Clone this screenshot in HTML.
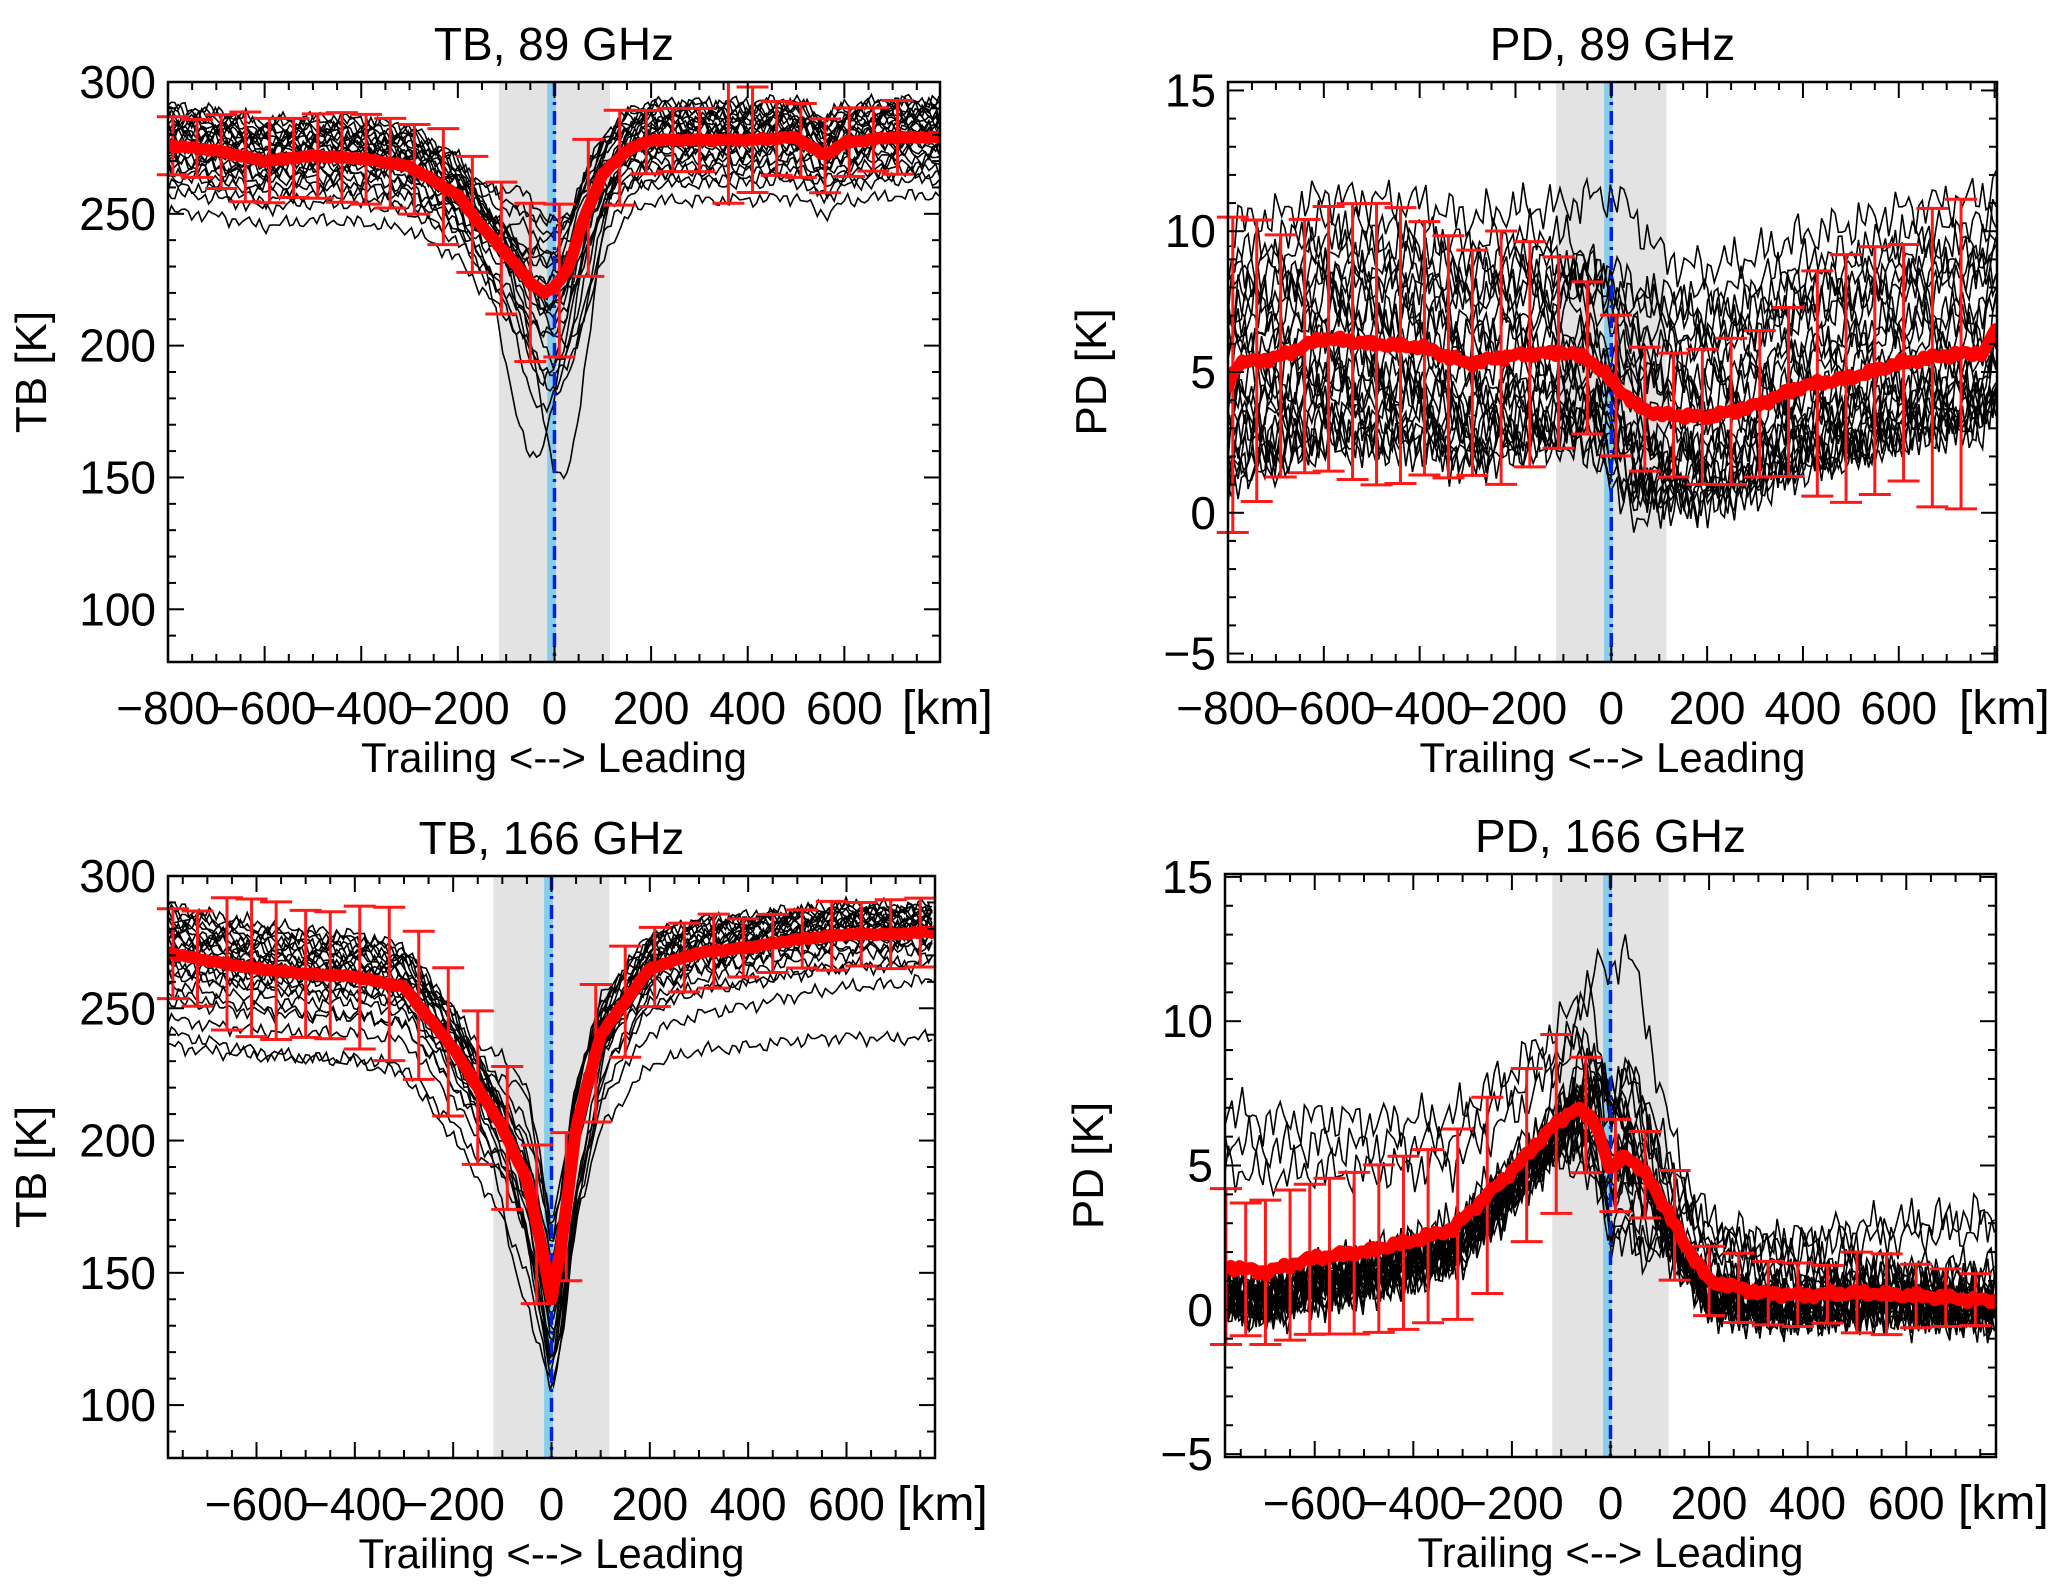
<!DOCTYPE html>
<html><head><meta charset="utf-8"><title>TB and PD composites</title>
<style>
html,body{margin:0;padding:0;background:#fff;}
svg{display:block;font-family:"Liberation Sans",sans-serif;}
</style></head>
<body>
<svg id="fig" width="2067" height="1591" viewBox="0 0 2067 1591" xmlns="http://www.w3.org/2000/svg"></svg>
<script>
// ---- data ----
const tl_meanX = [-800,-700,-600,-500,-400,-300,-200,-150,-100,-50,-20,0,30,60,100,150,200,300,400,500,560,600,700,800];
const tl_meanY = [276,274,270,272,271,268,257,245,235,224,220,222,230,248,265,274,278,278,278,279,272,277,279,279];
const tl_errX = [-790,-740,-690,-640,-590,-540,-490,-440,-390,-340,-290,-230,-170,-110,-50,10,70,135,190,245,300,360,410,460,510,560,610,660,710];
const tl_errH = [11,11,14,17,16,15,16,17,17,17,17,22,22,25,30,29,26,18,12,12,12,24,20,14,14,14,13,12,14];
const tr_meanX = [-800,-780,-700,-600,-500,-400,-300,-200,-100,-50,0,50,100,200,300,400,500,600,700,780,800];
const tr_meanY = [4.5,5.3,5.5,6.2,6.0,5.9,5.3,5.6,5.7,5.5,4.7,3.8,3.5,3.4,3.8,4.5,4.8,5.3,5.6,5.7,6.5];
const tr_errX = [-790,-740,-690,-640,-590,-540,-490,-440,-390,-340,-290,-230,-170,-110,-50,10,70,130,190,250,310,370,430,490,550,610,670,730];
const tr_errH = [5.6,5.0,4.3,4.5,4.7,4.9,5.0,4.9,4.5,4.3,4.0,4.5,4.0,3.4,2.7,2.5,2.2,2.2,2.4,2.6,2.6,3.0,4.0,4.4,4.4,4.2,5.3,5.5];
const bl_meanX = [-780,-700,-600,-500,-400,-300,-200,-100,-50,-20,0,20,50,100,200,300,400,500,600,700,780];
const bl_meanY = [271,268,265,263,262,258,235,205,185,160,140,160,205,240,265,271,273,276,278,278,279];
const bl_errX = [-770,-720,-660,-610,-560,-500,-450,-390,-330,-270,-210,-150,-90,-30,30,90,150,210,270,330,390,450,510,570,630,690,750];
const bl_errH = [17,18,25,26,26,24,24,27,29,28,28,29,27,30,28,26,21,15,13,14,11,11,11,13,12,13,13];
const br_meanX = [-780,-700,-600,-500,-400,-320,-200,-120,-70,-30,0,30,80,150,200,300,400,500,600,700,780];
const br_meanY = [1.5,1.3,1.8,2.0,2.4,2.8,4.8,6.3,7.0,6.5,4.8,5.4,4.5,2.3,1.0,0.6,0.5,0.6,0.5,0.4,0.3];
const br_errX = [-780,-740,-700,-650,-610,-570,-520,-470,-420,-370,-310,-250,-170,-110,-50,10,70,130,200,260,320,380,440,500,560,620,680,740];
const br_errH = [2.7,2.3,2.5,2.6,2.6,2.7,2.8,2.9,3.0,3.0,3.3,3.4,3.0,3.1,2.0,1.6,1.5,1.9,1.2,1.2,1.1,1.1,1.0,1.4,1.4,1.1,1.0,0.9];
// per-trace offsets: left side, right side, extra dip near center
const tl_trL = [15,12,10,8,6,4,2,0,-2,-4,-6,-8,-12,-18,-25,14,11,7,3,-1,-5,-10,9,5,-15];
const tl_trR = [14,12,10,9,7,5,3,1,-1,-3,-5,-8,-12,-16,-22,13,10,6,2,-2,-6,-10,8,4,-14];
const tl_trC = [10,15,-20,5,-40,0,-10,20,-30,8,-60,12,-5,-25,-15,18,-45,3,-80,-8,25,-35,6,-12,0];
const tr_trL = [-3.8,-3.4,-3,-2.5,-2,-1.5,-1,-0.5,0,0.5,1,1.5,2,2.5,3,3.5,-4,-3.6,-2.8,-1.2,0.8,2.2,4,5,-2];
const tr_trR = [-2.6,-2.4,-2.2,-2,-1.8,-1.5,-1,-0.5,0,0.5,1,1.5,2.5,3,3.5,4,-2.5,-2.3,-1.8,-0.8,1.5,3,4.5,5.5,-1];
const tr_trC = [0,1,-1,2,-2,1.5,0,-1,0.5,1,-0.5,2,-1.5,0,1,-1,0.5,2,0,-2,1,0,-1,1.5,0];
const bl_trL = [18,15,12,10,8,6,4,2,0,-2,-5,-8,-12,-18,-25,-35,16,13,9,5,1,-3,-7,-15,-30];
const bl_trR = [10,9,8,7,6,5,4,3,2,1,0,-2,-4,-6,-10,-18,9,7,5,3,1,-1,-5,-12,-40];
const bl_trC = [20,10,-20,5,-35,0,-10,25,-30,8,-45,12,-5,-25,-15,18,-40,3,-10,-8,30,-20,6,-12,0];
const br_trL = [-1.5,-1.3,-1.2,-1.0,-1.0,-0.8,-0.8,-1.2,-0.9,-1.1,-1.4,-1.0,-0.6,-1.3,-0.9,-1.2,3.5,4.5,5.5,-1.0,-0.7,-1.1,-1.3,-0.8,-1.5];
const br_trR = [-0.5,-0.3,-0.6,-0.2,-0.4,0.3,-0.5,-0.1,-0.3,0.5,-0.4,0.2,0.8,1.2,2.5,3,-0.6,-0.2,0.1,-0.4,-0.3,0.4,-0.5,0,-0.2];
const br_trC = [2,3,1,-2,0,4,-1,2.5,3.5,-2.5,1.5,0.5,-1,3,2,-3,1,0,4.5,-1.5,2,-0.5,3,1,-2];
const xTicks = [-800,-600,-400,-200,0,200,400,600];
const xTicksB = [-600,-400,-200,0,200,400,600];

// ---- layout ----
const panels = [
 {id:'tb89', title:'TB, 89 GHz', ylab:'TB [K]', x0:168,x1:940,y0:82,y1:662, xmin:-800,xmax:798, ymin:80,ymax:300, yMaj:[100,150,200,250,300], yMin:10, noise:3,
  mX:tl_meanX,mY:tl_meanY,eX:tl_errX,eH:tl_errH,tL:tl_trL,tR:tl_trR,tC:tl_trC, xt:xTicks, band:115},
 {id:'pd89', title:'PD, 89 GHz', ylab:'PD [K]', x0:1228,x1:1997,y0:82,y1:662, xmin:-800,xmax:805, ymin:-5.3,ymax:15.3, yMaj:[-5,0,5,10,15], yMin:1, noise:0.9,
  mX:tr_meanX,mY:tr_meanY,eX:tr_errX,eH:tr_errH,tL:tr_trL,tR:tr_trR,tC:tr_trC, xt:xTicks, band:115},
 {id:'tb166', title:'TB, 166 GHz', ylab:'TB [K]', x0:168,x1:935,y0:876,y1:1458, xmin:-780,xmax:780, ymin:80,ymax:300, yMaj:[100,150,200,250,300], yMin:10, noise:3,
  mX:bl_meanX,mY:bl_meanY,eX:bl_errX,eH:bl_errH,tL:bl_trL,tR:bl_trR,tC:bl_trC, xt:xTicksB, band:118},
 {id:'pd166', title:'PD, 166 GHz', ylab:'PD [K]', x0:1225,x1:1996,y0:874,y1:1457, xmin:-782,xmax:782, ymin:-5.1,ymax:15.1, yMaj:[-5,0,5,10,15], yMin:1, noise:0.9,
  mX:br_meanX,mY:br_meanY,eX:br_errX,eH:br_errH,tL:br_trL,tR:br_trR,tC:br_trC, xt:xTicksB, band:118}
];
const NS='http://www.w3.org/2000/svg';
const svg=document.getElementById('fig');
function mk(tag,attrs,parent){const e=document.createElementNS(NS,tag);for(const k in attrs)e.setAttribute(k,attrs[k]);(parent||svg).appendChild(e);return e;}
function interp(xs,ys,x){if(x<=xs[0])return ys[0];for(let i=1;i<xs.length;i++){if(x<=xs[i]){const t=(x-xs[i-1])/(xs[i]-xs[i-1]);return ys[i-1]+t*(ys[i]-ys[i-1]);}}return ys[ys.length-1];}
function wig(i,k){return Math.sin(i*1.7+k*3.1)*0.5+Math.sin(i*0.61+k*1.3)*0.35+Math.sin(i*3.9+k*0.7)*0.3;}

panels.forEach((p,pi)=>{
  const g=mk('g',{});
  
  
  const sx=v=>p.x0+(v-p.xmin)/(p.xmax-p.xmin)*(p.x1-p.x0);
  const sy=v=>p.y1-(v-p.ymin)/(p.ymax-p.ymin)*(p.y1-p.y0);
  const cp=mk('clipPath',{id:'clip'+pi},g); mk('rect',{x:p.x0,y:p.y0,width:p.x1-p.x0,height:p.y1-p.y0},cp);
  const band=mk('rect',{x:sx(-p.band),y:p.y0,width:sx(p.band)-sx(-p.band),height:p.y1-p.y0,fill:'#e3e3e3'},g);
  
  
  const cb=mk('rect',{x:sx(-15),y:p.y0,width:sx(3)-sx(-15),height:p.y1-p.y0,fill:'#87ceeb'},g);
  
  
  const tg=mk('g',{'clip-path':'url(#clip'+pi+')'},g);
  
  
  for(let k=0;k<p.tL.length;k++){
    let d='';let i=0;
    for(let x=p.xmin;x<=p.xmax;x+=7,i++){
      const t=(x-p.xmin)/(p.xmax-p.xmin);
      const off=p.tL[k]*(1-t)+p.tR[k]*t;
      const c=p.tC[k]*Math.exp(-Math.pow((x-(k%5-2)*25)/70,2));
      const v=interp(p.mX,p.mY,x)+off+c+p.noise*wig(i,k);
      d+=(d?'L':'M')+sx(x).toFixed(1)+' '+sy(v).toFixed(1);
    }
    const path=mk('path',{d:d,fill:'none',stroke:'#000','stroke-width':1.6},tg);
    
    
  }
  const cl=mk('line',{x1:sx(0),x2:sx(0),y1:p.y0,y2:p.y1,stroke:'#0022dd','stroke-width':3.5,'stroke-dasharray':'14 6 3 6'},g);
  
  
  p.eX.forEach((x,j)=>{
    const m=interp(p.mX,p.mY,x),h=p.eH[j];
    const eg=mk('g',{stroke:'#ff1a1a','stroke-width':3},g);
    
    
    const ya=Math.max(sy(m+h),p.y0),yb=Math.min(sy(m-h),p.y1);
    mk('line',{x1:sx(x),x2:sx(x),y1:ya,y2:yb},eg);
    if(sy(m+h)>=p.y0) mk('line',{x1:sx(x)-16,x2:sx(x)+16,y1:ya,y2:ya},eg);
    if(sy(m-h)<=p.y1) mk('line',{x1:sx(x)-16,x2:sx(x)+16,y1:yb,y2:yb},eg);
  });
  let d='';
  for(let x=p.xmin;x<=p.xmax;x+=6){const i=(x-p.xmin)/6;const v=interp(p.mX,p.mY,x)+p.noise*0.15*wig(i,99);d+=(d?'L':'M')+sx(x).toFixed(1)+' '+sy(v).toFixed(1);}
  const ml=mk('path',{d:d,fill:'none',stroke:'#ff0000','stroke-width':12,'stroke-linejoin':'round','stroke-linecap':'round','clip-path':'url(#clip'+pi+')'},g);
  
  
  const fr=mk('rect',{x:p.x0,y:p.y0,width:p.x1-p.x0,height:p.y1-p.y0,fill:'none',stroke:'#000','stroke-width':2.5},g);
  
  
  const tk=mk('g',{stroke:'#000','stroke-width':2},g);
  for(let x=Math.ceil(p.xmin/50)*50;x<=p.xmax;x+=50){const L=(x%200===0)?16:8;
    mk('line',{x1:sx(x),x2:sx(x),y1:p.y1,y2:p.y1-L},tk);mk('line',{x1:sx(x),x2:sx(x),y1:p.y0,y2:p.y0+L},tk);}
  for(let y=Math.ceil(p.ymin/p.yMin)*p.yMin;y<=p.ymax;y+=p.yMin){const yy=Math.round(y*1000)/1000;const L=(Math.abs(yy/(p.yMin*5)-Math.round(yy/(p.yMin*5)))<1e-6)?16:8;
    mk('line',{x1:p.x0,x2:p.x0+L,y1:sy(yy),y2:sy(yy)},tk);mk('line',{x1:p.x1,x2:p.x1-L,y1:sy(yy),y2:sy(yy)},tk);}
  p.yMaj.forEach(v=>{const t=mk('text',{x:p.x0-12,y:sy(v)+16,'text-anchor':'end','font-size':46},g);t.textContent=String(v).replace('-','\u2212');
    
    });
  p.xt.forEach(v=>{const t=mk('text',{x:sx(v),y:p.y1+62,'text-anchor':'middle','font-size':46},g);t.textContent=String(v).replace('-','\u2212');
    
    });
  const km=mk('text',{x:p.x1-38,y:p.y1+62,'font-size':48},g);km.textContent='[km]';
  
  
  const xt=mk('text',{x:(p.x0+p.x1)/2,y:p.y1+110,'text-anchor':'middle','font-size':42},g);xt.textContent='Trailing <--> Leading';
  
  
  const tt=mk('text',{x:(p.x0+p.x1)/2,y:p.y0-22,'text-anchor':'middle','font-size':46},g);tt.textContent=p.title;
  
  
  const cy=(p.y0+p.y1)/2, cx=p.x0-122;
  const yt=mk('text',{x:cx,y:cy,'text-anchor':'middle','font-size':44,transform:'rotate(-90 '+cx+' '+cy+')'},g);yt.textContent=p.ylab;
  
  
});
</script>
</body></html>
